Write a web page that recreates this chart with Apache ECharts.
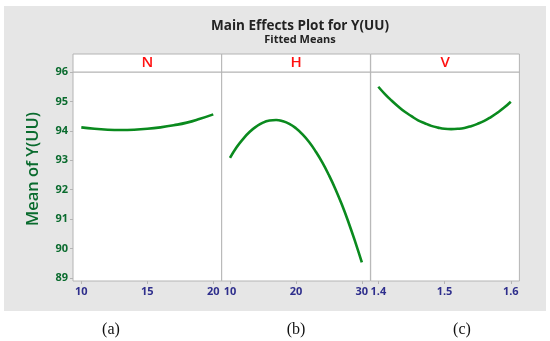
<!DOCTYPE html>
<html><head><meta charset="utf-8">
<script src="https://cdn.jsdelivr.net/npm/echarts@6/dist/echarts.min.js"></script>
<style>html,body{margin:0;padding:0;background:#fff}#c{width:550px;height:341px}</style>
</head><body><div id="c"></div>
<script>
// Data
const panelNames = ['N', 'H', 'V'];
const nX = [10, 11, 12, 13, 14, 15, 16, 17, 18, 19, 20];
const nY = [94.12, 94.07, 94.04, 94.03, 94.04, 94.07, 94.12, 94.19, 94.28, 94.41, 94.56];
const hX = [10, 11, 12, 13, 14, 15, 16, 17, 18, 19, 20, 21, 22, 23, 24, 25, 26, 27, 28, 29, 30];
const hY = [93.08, 93.44, 93.73, 93.97, 94.15, 94.28, 94.35, 94.37, 94.33, 94.24, 94.09,
            93.88, 93.62, 93.30, 92.93, 92.50, 92.02, 91.48, 90.88, 90.23, 89.53];
const vX = [1.40, 1.41, 1.42, 1.43, 1.44, 1.45, 1.46, 1.47, 1.48, 1.49, 1.50,
            1.51, 1.52, 1.53, 1.54, 1.55, 1.56, 1.57, 1.58, 1.59, 1.60];
const vY = [95.50, 95.25, 95.03, 94.83, 94.65, 94.50, 94.36, 94.26, 94.17, 94.11, 94.07,
            94.06, 94.07, 94.10, 94.16, 94.24, 94.34, 94.47, 94.62, 94.79, 94.99];
const nTicks = [10, 15, 20];
const hTicks = [10, 20, 30];
const vTicks = [1.4, 1.5, 1.6];
const yTicks = [89, 90, 91, 92, 93, 94, 95, 96];
const subLabels = ['(a)', '(b)', '(c)'];

const xs = [nX, hX, vX], ys = [nY, hY, vY];
const ticks = [nTicks, hTicks, vTicks];
const xRanges = [[9.37, 20.64], [8.74, 31.3], [1.3885, 1.613]];
const panelLeft = [73, 221.7, 370.7];
const panelW = 148.7;
const plotTop = 72, plotH = 209;
const green = '#0a6b2e', navy = '#2e2e8c', border = '#b4b4b4';

const grids = [], xAxes = [], yAxes = [], series = [];
for (let i = 0; i < 3; i++) {
  grids.push({left: panelLeft[i], top: plotTop, width: panelW, height: plotH,
    show: true, backgroundColor: '#fff', borderColor: border, borderWidth: 1});
  xAxes.push({type: 'value', gridIndex: i, min: xRanges[i][0], max: xRanges[i][1],
    axisLine: {show: false}, splitLine: {show: false},
    axisTick: {show: true, customValues: ticks[i], length: 3, lineStyle: {color: border}},
    axisLabel: {customValues: ticks[i], color: navy, fontWeight: 'bold', fontSize: 11,
      fontFamily: 'Open Sans', margin: 5}});
  yAxes.push({type: 'value', gridIndex: i, min: 88.9, max: 96.0,
    axisLine: {show: false}, splitLine: {show: false},
    axisTick: {show: i === 0, customValues: yTicks, length: 3, lineStyle: {color: border}},
    axisLabel: {show: i === 0, customValues: yTicks, color: green, fontWeight: 'bold',
      fontSize: 11, fontFamily: 'Open Sans', margin: 5}});
  series.push({type: 'line', xAxisIndex: i, yAxisIndex: i, smooth: true, showSymbol: false,
    lineStyle: {color: '#0a8a1e', width: 2.6},
    data: xs[i].map((x, k) => [x, ys[i][k]])});
}

const graphics = [
  {type: 'rect', z: -10, shape: {x: 4, y: 6, width: 542, height: 305}, style: {fill: '#e6e6e6'}}
];
for (let i = 0; i < 3; i++) {
  graphics.push({type: 'rect', shape: {x: panelLeft[i], y: 54, width: panelW, height: 18},
    style: {fill: '#fff', stroke: border, lineWidth: 1}});
  graphics.push({type: 'text', x: panelLeft[i] + panelW / 2, y: 63,
    style: {text: panelNames[i], fill: '#ff1010', font: '600 15px "Open Sans"', align: 'center', verticalAlign: 'middle'}});
}
const subX = [111, 296, 462];
for (let i = 0; i < 3; i++) {
  graphics.push({type: 'text', x: subX[i], y: 330,
    style: {text: subLabels[i], fill: '#111', font: '16px "Liberation Serif"', align: 'center', verticalAlign: 'middle'}});
}
graphics.push({type: 'text', x: 33, y: 169, rotation: Math.PI / 2,
  style: {text: 'Mean of Y(UU)', fill: green, font: '600 16.5px "Open Sans"', align: 'center', verticalAlign: 'middle'}});

const chart = echarts.init(document.getElementById('c'), null, {renderer: 'canvas'});
chart.setOption({
  animation: false,
  backgroundColor: '#fff',
  title: {text: 'Main Effects Plot for Y(UU)', subtext: 'Fitted Means', left: 295, top: 14,
    textAlign: 'center', itemGap: 1,
    textStyle: {fontSize: 13.5, fontWeight: 'bold', color: '#222', fontFamily: 'Open Sans'},
    subtextStyle: {fontSize: 11, fontWeight: 'bold', color: '#222', fontFamily: 'Open Sans'}},
  grid: grids, xAxis: xAxes, yAxis: yAxes, series: series, graphic: graphics
});
</script></body></html>
